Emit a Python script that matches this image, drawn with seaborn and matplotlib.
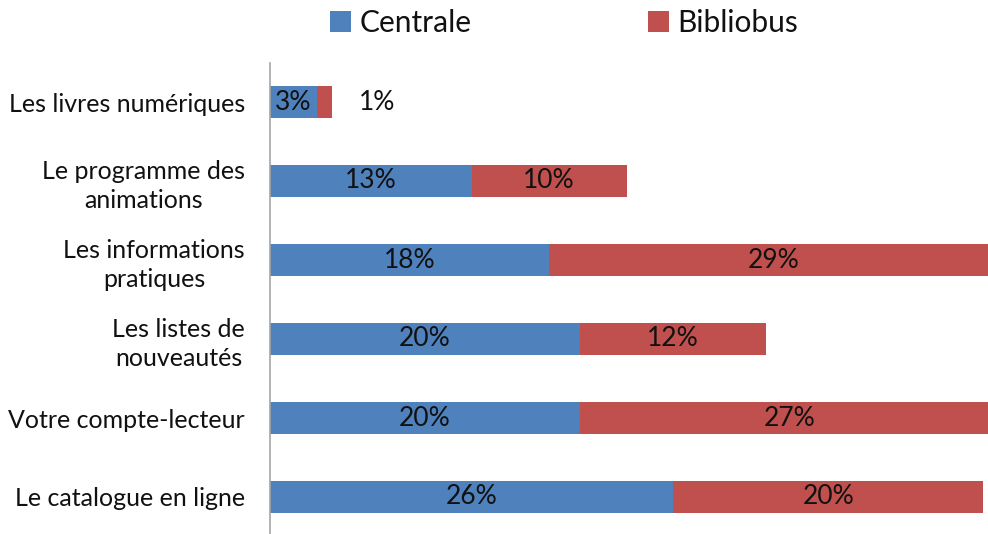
import matplotlib
matplotlib.use("Agg")
import matplotlib.pyplot as plt
from matplotlib.patches import Patch
import seaborn as sns
import pandas as pd

categories = [
    "Les livres numériques",
    "Le programme des\nanimations",
    "Les informations\npratiques",
    "Les listes de\nnouveautés",
    "Votre compte-lecteur",
    "Le catalogue en ligne",
]
centrale = [3, 13, 18, 20, 20, 26]
bibliobus = [1, 10, 29, 12, 27, 20]
series_names = ["Centrale", "Bibliobus"]

BLUE = "#4F81BD"
RED = "#C0504D"
TEXT = "#111111"

sns.set_theme(style="white")
plt.rcParams["font.family"] = ["Lato", "DejaVu Sans"]

df = pd.DataFrame({
    "cat": categories,
    "centrale": centrale,
    "bibliobus": bibliobus,
})
df["total"] = df["centrale"] + df["bibliobus"]

fig = plt.figure(figsize=(9.88, 5.34), dpi=100)
ax = fig.add_axes([270 / 988, -2.5 / 534, 1 - 270 / 988, (536.5 - 62.5) / 534])

# Stacked bars: full total in red, Centrale share drawn over it in blue
sns.barplot(data=df, y="cat", x="total", orient="h", color=RED,
            width=0.41, saturation=1, linewidth=0, ax=ax)
sns.barplot(data=df, y="cat", x="centrale", orient="h", color=BLUE,
            width=0.41, saturation=1, linewidth=0, ax=ax)

ax.set_xlim(0, 46.3)
ax.set_ylim(5.5, -0.5)
ax.set_xlabel("")
ax.set_ylabel("")
ax.set_xticks([])
for side in ["top", "right", "bottom"]:
    ax.spines[side].set_visible(False)
ax.spines["left"].set_color("#A6A6A6")
ax.spines["left"].set_linewidth(1.2)

ax.tick_params(axis="y", length=0, pad=18, labelsize=18, labelcolor=TEXT)
for lbl in ax.get_yticklabels():
    lbl.set_multialignment("center")
    lbl.set_linespacing(1.3)

# Value labels
for i, (c, b) in enumerate(zip(centrale, bibliobus)):
    ax.text(c / 2, i, f"{c}%", ha="center", va="center", fontsize=19, color=TEXT)
    if b < 3:
        ax.text(c + b + 2.9, i, f"{b}%", ha="center", va="center", fontsize=19, color=TEXT)
    else:
        ax.text(c + b / 2, i, f"{b}%", ha="center", va="center", fontsize=19,
                color=TEXT, clip_on=False)

handles = [Patch(facecolor=BLUE, edgecolor="none"), Patch(facecolor=RED, edgecolor="none")]
fig.legend(handles, series_names, loc="center", bbox_to_anchor=(0.571, 1 - 23 / 534),
           ncol=2, frameon=False, fontsize=21.5, handlelength=0.7, handleheight=0.7,
           handletextpad=0.3, columnspacing=5.9, labelcolor=TEXT,
           borderaxespad=0, borderpad=0)

fig.savefig("out.png", dpi=100)
